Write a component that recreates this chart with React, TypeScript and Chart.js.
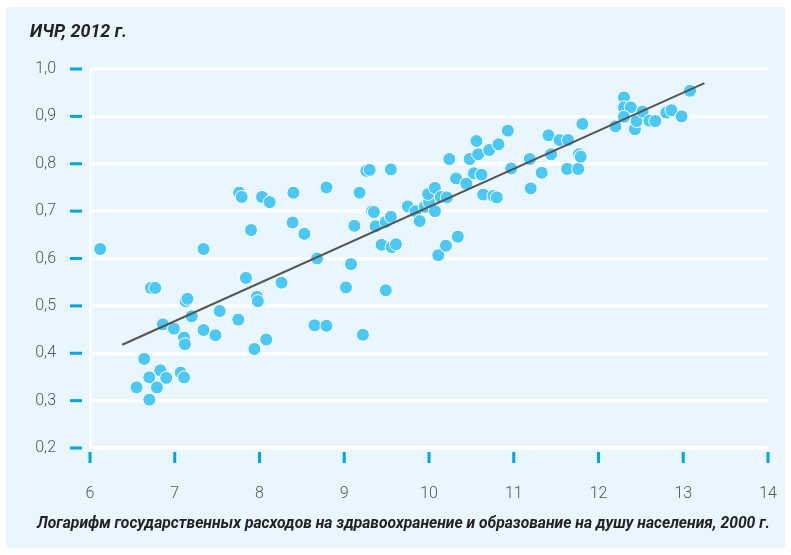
import React, { useEffect, useRef } from "react";
import { Chart, registerables } from "chart.js";

Chart.register(...registerables);

const xValues: number[] = [
  6.12, 6.55, 6.64, 6.7, 6.7, 6.72, 6.77, 6.79, 6.83, 6.86, 6.9, 6.99, 7.07, 7.11, 7.11, 7.12, 7.13, 7.15, 7.2, 7.34,
  7.34, 7.48, 7.53, 7.75, 7.76, 7.79, 7.84, 7.9, 7.94, 7.97, 7.98, 8.03, 8.08, 8.12, 8.26, 8.39, 8.4, 8.53, 8.65, 8.68,
  8.79, 8.79, 9.02, 9.08, 9.12, 9.18, 9.22, 9.26, 9.3, 9.33, 9.35, 9.37, 9.44, 9.49, 9.49, 9.55, 9.55, 9.56, 9.61, 9.75,
  9.84, 9.89, 9.95, 10.0, 9.99, 10.07, 10.07, 10.11, 10.14, 10.2, 10.21, 10.24, 10.32, 10.34, 10.44, 10.48, 10.53, 10.56, 10.58, 10.62,
  10.64, 10.71, 10.76, 10.8, 10.82, 10.93, 10.97, 11.19, 11.2, 11.33, 11.41, 11.44, 11.54, 11.63, 11.64, 11.76, 11.77, 11.79, 11.81, 12.2,
  12.3, 12.3, 12.38, 12.3, 12.43, 12.45, 12.52, 12.6, 12.67, 12.8, 12.86, 12.98, 13.08,
];
const yValues: number[] = [
  0.62, 0.328, 0.388, 0.302, 0.349, 0.538, 0.538, 0.328, 0.364, 0.461, 0.348, 0.452, 0.359, 0.349, 0.433, 0.419, 0.51, 0.515, 0.478, 0.62,
  0.449, 0.438, 0.489, 0.471, 0.739, 0.73, 0.559, 0.66, 0.409, 0.519, 0.51, 0.73, 0.429, 0.719, 0.549, 0.676, 0.739, 0.652, 0.459, 0.6,
  0.75, 0.458, 0.539, 0.588, 0.669, 0.739, 0.439, 0.785, 0.787, 0.7, 0.698, 0.668, 0.629, 0.677, 0.533, 0.688, 0.788, 0.624, 0.63, 0.71,
  0.7, 0.679, 0.709, 0.719, 0.736, 0.749, 0.7, 0.607, 0.73, 0.627, 0.729, 0.81, 0.769, 0.646, 0.758, 0.81, 0.78, 0.848, 0.82, 0.777,
  0.735, 0.829, 0.732, 0.729, 0.841, 0.87, 0.79, 0.81, 0.748, 0.781, 0.86, 0.82, 0.85, 0.789, 0.85, 0.789, 0.82, 0.815, 0.884, 0.879,
  0.94, 0.919, 0.919, 0.899, 0.873, 0.89, 0.91, 0.891, 0.89, 0.908, 0.913, 0.9, 0.954,
];
const trendX: number[] = [6.38, 13.25];
const trendY: number[] = [0.418, 0.97];

const yTitle = "ИЧР, 2012 г.";
const xTitle = "Логарифм государственных расходов на здравоохранение и образование на душу населения, 2000 г.";

const FONT = "Roboto, 'Liberation Sans', sans-serif";

const decorations = {
  id: "decorations",
  afterDraw(chart: any) {
    const ctx = chart.ctx;
    const { left, bottom } = chart.chartArea;
    const y = chart.scales.y;
    const x = chart.scales.x;
    ctx.save();
    ctx.strokeStyle = "#00a6e0";
    ctx.lineWidth = 3;
    y.ticks.forEach((t: any) => {
      const py = y.getPixelForValue(t.value);
      ctx.beginPath();
      ctx.moveTo(left - 20, py);
      ctx.lineTo(left - 8, py);
      ctx.stroke();
    });
    x.ticks.forEach((t: any) => {
      const px = x.getPixelForValue(t.value);
      ctx.beginPath();
      ctx.moveTo(px, bottom + 4);
      ctx.lineTo(px, bottom + 15);
      ctx.stroke();
    });
    ctx.fillStyle = "#222";
    ctx.textBaseline = "middle";
    ctx.textAlign = "left";
    ctx.font = `italic bold 18px ${FONT}`;
    ctx.fillText(yTitle, 24, 25, 97);
    ctx.font = `italic bold 17px ${FONT}`;
    ctx.fillText(xTitle, 31, 517, 733);
    ctx.restore();
  },
};

export default function App() {
  const ref = useRef<HTMLCanvasElement>(null);
  useEffect(() => {
    if (!ref.current) return;
    const chart = new Chart(ref.current, {
      type: "scatter",
      data: {
        datasets: [
          {
            type: "line",
            data: trendX.map((x, i) => ({ x, y: trendY[i] })),
            borderColor: "#555555",
            borderWidth: 2,
            pointRadius: 0,
            fill: false,
            order: 0,
          } as any,
          {
            data: xValues.map((x, i) => ({ x, y: yValues[i] })),
            backgroundColor: "#4bc8f4",
            borderColor: "#ffffff",
            borderWidth: 1,
            pointRadius: 6.5,
            order: 1,
          },
        ],
      },
      options: {
        responsive: false,
        animation: false,
        layout: { padding: { top: 62, right: 17, left: 0, bottom: 0 } },
        plugins: { legend: { display: false }, tooltip: { enabled: false }, title: { display: false } },
        scales: {
          x: {
            type: "linear",
            min: 6,
            max: 14,
            afterFit: (s: any) => {
              s.height = 100;
            },
            ticks: {
              stepSize: 1,
              padding: 0,
              color: "#555",
              font: { family: FONT, size: 16, weight: "300" },
            },
            grid: {
              display: true,
              drawOnChartArea: false,
              drawTicks: true,
              tickLength: 36,
              tickColor: "rgba(0,0,0,0)",
            },
            border: { display: false },
          },
          y: {
            min: 0.2,
            max: 1.0,
            afterFit: (s: any) => {
              s.width = 84;
            },
            ticks: {
              stepSize: 0.1,
              padding: 34,
              color: "#555",
              font: { family: FONT, size: 16, weight: "300" },
              callback: (v: any) => Number(v).toFixed(1).replace(".", ","),
            },
            grid: { color: "#ffffff", lineWidth: 3.5, drawTicks: false },
            border: { display: true, color: "#ffffff", width: 3 },
          },
        },
      },
      plugins: [decorations],
    });
    return () => chart.destroy();
  }, []);

  return (
    <div style={{ position: "absolute", left: 0, top: 0, width: 791, height: 555, background: "#ffffff" }}>
      <div style={{ position: "absolute", left: 6, top: 7, width: 779, height: 541, background: "#e9f6fd" }}>
        <canvas ref={ref} width={779} height={541} style={{ position: "absolute", left: 0, top: 0 }} />
      </div>
    </div>
  );
}
